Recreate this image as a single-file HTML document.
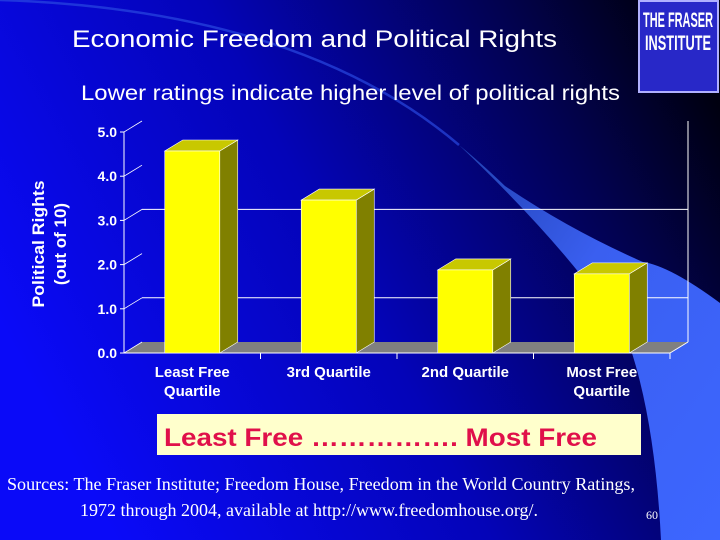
<!DOCTYPE html>
<html><head><meta charset="utf-8"><style>
body{margin:0;width:720px;height:540px;overflow:hidden;font-family:"Liberation Sans",sans-serif}
#s{position:absolute;left:0;top:0}
</style></head><body>
<svg id="s" width="720" height="540">
<defs>
<linearGradient id="bg" x1="0" y1="0.6" x2="1" y2="0.2">
<stop offset="0" stop-color="#0a0af8"/><stop offset="0.45" stop-color="#0404b8"/><stop offset="0.8" stop-color="#020250"/><stop offset="1" stop-color="#000010"/>
</linearGradient>
<linearGradient id="sw" x1="0" y1="0" x2="1" y2="1">
<stop offset="0" stop-color="#2040b0"/><stop offset="0.4" stop-color="#3a5ff0"/><stop offset="1" stop-color="#3d66ff"/>
</linearGradient>
</defs>
<rect width="720" height="540" fill="url(#bg)"/>
<path d="M0,0 Q300,10 459,145" stroke="#2a48e0" stroke-width="2.5" fill="none" opacity="0.7"/>
<path d="M459,145 Q580,260 629,344 Q655,420 661,540 L720,540 L720,303 Q670,266 643,262 Q570,230 505,186 Q480,162 459,145 Z" fill="url(#sw)"/>
<g>
<rect x="639" y="1" width="79" height="91" fill="#2828c8" stroke="#b0b0ff" stroke-width="2"/>
<text x="678" y="27" fill="#fff" font-size="21" font-weight="bold" text-anchor="middle" textLength="70" lengthAdjust="spacingAndGlyphs">THE FRASER</text>
<text x="678" y="50" fill="#fff" font-size="21" font-weight="bold" text-anchor="middle" textLength="66" lengthAdjust="spacingAndGlyphs">INSTITUTE</text>
</g>
<text x="72" y="47" fill="#fff" font-size="24" textLength="485" lengthAdjust="spacingAndGlyphs">Economic Freedom and Political Rights</text>
<text x="81" y="100" fill="#fff" font-size="21" textLength="539" lengthAdjust="spacingAndGlyphs">Lower ratings indicate higher level of political rights</text>
<g id="chart"></g>
<g transform="translate(44,244) rotate(-90)">
<text x="0" y="0" fill="#fff" font-size="17" font-weight="bold" text-anchor="middle" textLength="127" lengthAdjust="spacingAndGlyphs">Political Rights</text>
<text x="0" y="22" fill="#fff" font-size="17" font-weight="bold" text-anchor="middle">(out of 10)</text>
</g>
<g>
<rect x="157" y="414" width="484" height="41" fill="#ffffcc"/>
<text x="164" y="446" fill="#e0104a" font-size="25" font-weight="bold" textLength="433" lengthAdjust="spacingAndGlyphs">Least Free ……………. Most Free</text>
</g>
<g font-family="Liberation Serif, serif" fill="#fff" font-size="18">
<text x="7" y="490" textLength="628" lengthAdjust="spacingAndGlyphs">Sources: The Fraser Institute; Freedom House, Freedom in the World Country Ratings,</text>
<text x="80" y="516" textLength="458" lengthAdjust="spacingAndGlyphs">1972 through 2004, available at http://www.freedomhouse.org/.</text>
</g>
<text x="646" y="519" fill="#fff" font-size="12" font-family="Liberation Serif, serif">60</text>
</svg>
<script>
const categories=[["Least Free","Quartile"],["3rd Quartile"],["2nd Quartile"],["Most Free","Quartile"]];
const values=[4.57,3.46,1.88,1.79];
const ticks=[0,1,2,3,4,5];
const tickLabels=["0.0","1.0","2.0","3.0","4.0","5.0"];
const gridShown=[1,3];
(function(){
const NS="http://www.w3.org/2000/svg",g=document.getElementById('chart');
const X0=124,X1=670,Y0=353,U=44.2,DX=18,DY=11,BW=55;
const y=v=>Y0-v*U, band=(X1-X0)/categories.length, cx=i=>X0+band*(i+0.5);
function el(t,a,p){const e=document.createElementNS(NS,t);for(const k in a)e.setAttribute(k,a[k]);(p||g).appendChild(e);return e;}
let e=el('polygon',{points:`${X0},${Y0} ${X1},${Y0} ${X1+DX},${Y0-DY} ${X0+DX},${Y0-DY}`,fill:'#808080'});


el('line',{x1:X1+DX,y1:Y0-DY,x2:X1+DX,y2:y(5)-DY,stroke:'#fff','stroke-width':1});
gridShown.forEach(v=>{e=el('line',{x1:X0+DX,y1:y(v)-DY,x2:X1+DX,y2:y(v)-DY,stroke:'#fff','stroke-width':1});

});
el('line',{x1:X0,y1:Y0,x2:X0,y2:y(5),stroke:'#fff'});
el('line',{x1:X0,y1:Y0,x2:X1,y2:Y0,stroke:'#fff'});
el('line',{x1:X1,y1:Y0,x2:X1+DX,y2:Y0-DY,stroke:'#fff'});
ticks.forEach((v,i)=>{el('line',{x1:X0-4,y1:y(v),x2:X0,y2:y(v),stroke:'#fff'});
el('line',{x1:X0,y1:y(v),x2:X0+DX,y2:y(v)-DY,stroke:'#fff','stroke-width':0.8});
e=el('text',{x:X0-7,y:y(v)+5,fill:'#fff','font-size':14,'font-weight':'bold','text-anchor':'end'});e.textContent=tickLabels[i];

});
for(let i=1;i<=categories.length;i++)el('line',{x1:X0+band*i,y1:Y0,x2:X0+band*i,y2:Y0+6,stroke:'#fff'});
values.forEach((v,i)=>{const l=cx(i)-BW/2,r=l+BW,t=y(v);
const b=el('g',{});


el('polygon',{points:`${r},${Y0} ${r+DX},${Y0-DY} ${r+DX},${t-DY} ${r},${t}`,fill:'#808000',stroke:'#fff','stroke-width':0.6},b);
el('polygon',{points:`${l},${t} ${r},${t} ${r+DX},${t-DY} ${l+DX},${t-DY}`,fill:'#c8c800',stroke:'#fff','stroke-width':0.6},b);
el('rect',{x:l,y:t,width:BW,height:Y0-t,fill:'#ffff00',stroke:'#fff','stroke-width':0.6},b);
categories[i].forEach((s,j)=>{e=el('text',{x:cx(i),y:Y0+24+j*19,fill:'#fff','font-size':15,'font-weight':'bold','text-anchor':'middle'});e.textContent=s;

});
});
})();
</script>
</body></html>
